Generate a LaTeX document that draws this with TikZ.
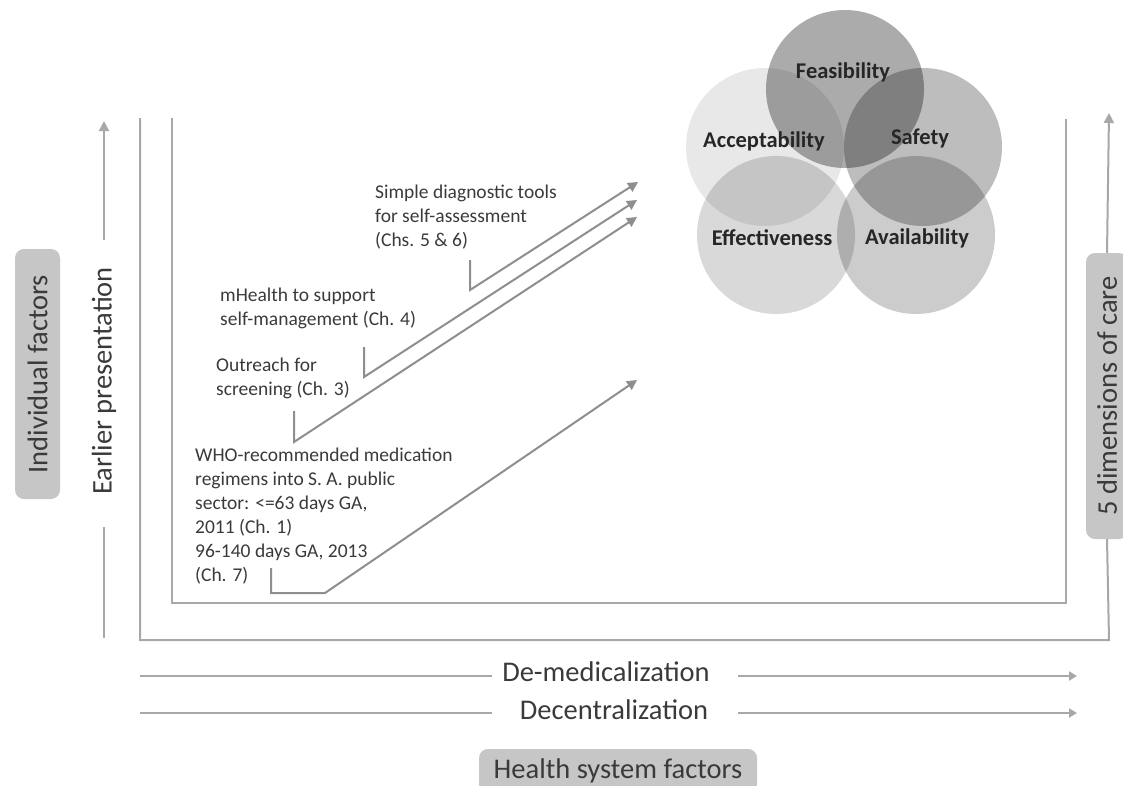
\documentclass[tikz,border=0pt]{standalone}
\usepackage{fontspec}
\setmainfont{Carlito}
\usetikzlibrary{arrows.meta}
\definecolor{linegray}{HTML}{A8A8A8}
\definecolor{arrgray}{HTML}{8E8E8E}
\definecolor{txt}{HTML}{3A3A3A}
\definecolor{vtxt}{HTML}{262626}
\definecolor{boxgray}{HTML}{C6C6C6}
\begin{document}
\begin{tikzpicture}[x=1pt,y=-1pt,
  frame/.style={draw=linegray, line width=2pt},
  arr/.style={draw=arrgray, line width=2pt, -{Triangle[width=10pt,length=10pt]}},
  body/.style={align=left, anchor=north west, inner sep=0pt, text=txt, font=\fontsize{19.5}{24}\selectfont},
  big/.style={text=txt, font=\fontsize{28.5}{32}\selectfont, inner sep=0pt},
  factor/.style={big, fill=boxgray, rounded corners=9pt},
  venn/.style={circle, minimum size=158pt, inner sep=0pt, fill=black},
  vlabel/.style={font=\bfseries\fontsize{22.5}{26}\selectfont, text=vtxt, inner sep=0pt}
]
\useasboundingbox (0,0) rectangle (1123,785);

% Venn circles
\node[venn, fill opacity=0.09] (acc) at (765,147) {};
\node[venn, fill opacity=0.15] (eff) at (776,235) {};
\node[venn, fill opacity=0.20] (ava) at (916,235) {};
\node[venn, fill opacity=0.26] (saf) at (923,147) {};
\node[venn, fill opacity=0.33] (fea) at (845,89) {};
\node[vlabel] (feaL) at (843,72) {Feasibility};
\node[vlabel] (accL) at (764,141) {Acceptability};
\node[vlabel] (safL) at (920,138) {Safety};
\node[vlabel] (effL) at (772,238) {Effectiveness};
\node[vlabel] (avaL) at (917,238) {Availability};

% frames
\coordinate (oTL) at (140,118);
\coordinate (oBR) at (1109,640);
\coordinate (oTR) at (1109,113);
\coordinate (iTL) at (172,118);
\coordinate (iBR) at (1066,603);
\coordinate (iTR) at (1066,119);
\node[factor, rotate=90, minimum width=286pt, minimum height=42pt] (dim) at (1107,396) {5 dimensions of care};
\draw[frame] (oTL) |- (oBR) -- (dim.west);
\draw[frame, -{Triangle[width=10pt,length=10pt]}] (dim.east) -- (oTR);
\draw[frame] (iTL) |- (iBR) -- (iTR);

% left side
\node[factor, rotate=90, minimum width=250pt, minimum height=45pt] (ind) at (37.5,374) {Individual factors};
\node[big, rotate=90] (early) at (104,381) {Earlier presentation};
\coordinate (eB) at (104,638);
\coordinate (eG1) at (104,527);
\coordinate (eG2) at (104,240);
\coordinate (eT) at (104,121);
\draw[frame] (eB) -- (eG1);
\draw[frame, -{Triangle[width=10pt,length=10pt]}] (eG2) -- (eT);

% texts
\node[body] (simple) at (375,185) {Simple diagnostic tools\\for self-assessment\\(Chs. 5 \& 6)};
\node[body] (mh) at (220,288) {mHealth to support\\self-management (Ch. 4)};
\node[body] (out) at (216,358) {Outreach for\\screening (Ch. 3)};
\node[body] (who) at (195,448) {WHO-recommended medication\\regimens into S. A. public\\sector: <=63 days GA,\\2011 (Ch. 1)\\96-140 days GA, 2013\\(Ch. 7)};

% diagonal arrows
\coordinate (s1) at (470,260);
\coordinate (s2) at (470,290);
\coordinate (s3) at (638,182);
\draw[arr] (s1) -- (s2) -- (s3);
\coordinate (m1) at (364,347);
\coordinate (m2) at (364,377);
\coordinate (m3) at (637,200);
\draw[arr] (m1) -- (m2) -- (m3);
\coordinate (o1) at (294,411);
\coordinate (o2) at (294,442);
\coordinate (o3) at (637,217);
\draw[arr] (o1) -- (o2) -- (o3);
\coordinate (w1) at (271,568);
\coordinate (w2) at (271,593);
\coordinate (w3) at (325,593);
\coordinate (w4) at (637,380);
\draw[arr] (w1) -- (w2) -- (w3) -- (w4);

% bottom
\node[big] (demed) at (606,672) {De-medicalization};
\node[big] (decen) at (614,710) {Decentralization};
\coordinate (d1) at (140,676);
\coordinate (d2) at (492,676);
\coordinate (d3) at (738,676);
\coordinate (d4) at (1077,676);
\coordinate (c1) at (140,713);
\coordinate (c2) at (492,713);
\coordinate (c3) at (738,713);
\coordinate (c4) at (1077,713);
\draw[frame] (d1) -- (d2);
\draw[frame, -{Triangle[width=9pt,length=8pt]}] (d3) -- (d4);
\draw[frame] (c1) -- (c2);
\draw[frame, -{Triangle[width=9pt,length=8pt]}] (c3) -- (c4);
\node[factor, minimum width=278pt, minimum height=44pt] (hsf) at (618,771) {Health system factors};
\end{tikzpicture}
\end{document}
